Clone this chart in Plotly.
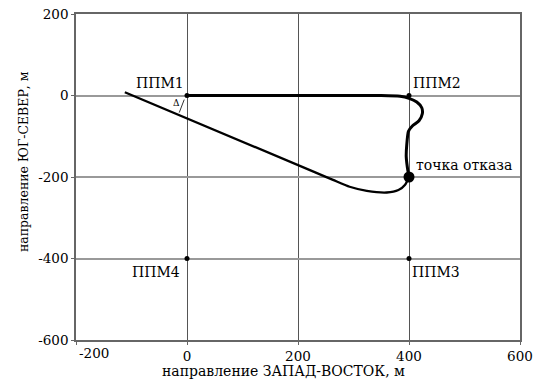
import plotly.graph_objects as go

# Route waypoints (ППМ) in metres: east, north
wp_names = ["ППМ1", "ППМ2", "ППМ3", "ППМ4"]
wp_x = [0, 400, 400, 0]
wp_y = [0, 0, -400, -400]

# Flown track up to the failure point
track_x = [0, 200, 350, 384, 400, 414, 423, 424, 418, 406, 399, 396, 395, 398, 400]
track_y = [0, 0, 0, -2, -7, -16, -30, -45, -62, -75, -88, -120, -150, -185, -200]

# Track after the failure
after_x = [400, 393, 381, 360, 324, 293, 263, 230, -112]
after_y = [-200, -219, -232, -238, -234, -224, -207, -188, 8]

fail_x = [400]
fail_y = [-200]

# Cross-track deviation marker
dev_x = [-5, -14]
dev_y = [-10, -42]

# Axis ticks (the leftmost x label is drawn separately, nudged inside)
x_ticks = [-200, 0, 200, 400, 600]
x_ticktext = ["", "0", "200", "400", "600"]
y_ticks = [-600, -400, -200, 0, 200]
y_ticktext = ["-600", "-400", "-200", "0", "200"]

x_title = "направление ЗАПАД-ВОСТОК, м"
y_title = "направление ЮГ-СЕВЕР, м"

FONT = "DejaVu Serif"

fig = go.Figure()
fig.add_trace(go.Scatter(x=track_x, y=track_y, mode="lines",
                         line=dict(color="black", width=3, shape="spline", smoothing=0.6),
                         hoverinfo="skip"))
fig.add_trace(go.Scatter(x=after_x, y=after_y, mode="lines",
                         line=dict(color="black", width=2.3, shape="spline", smoothing=0.6),
                         hoverinfo="skip"))
fig.add_trace(go.Scatter(x=dev_x, y=dev_y, mode="lines",
                         line=dict(color="black", width=0.8), hoverinfo="skip"))
fig.add_trace(go.Scatter(x=wp_x, y=wp_y, mode="markers",
                         marker=dict(color="black", size=5)))
fig.add_trace(go.Scatter(x=fail_x, y=fail_y, mode="markers",
                         marker=dict(color="black", size=11)))

ann = [
    dict(x=0, y=0, text=wp_names[0], xanchor="right", yanchor="bottom", xshift=-1, yshift=3),
    dict(x=400, y=0, text=wp_names[1], xanchor="left", yanchor="bottom", xshift=2, yshift=3),
    dict(x=400, y=-400, text=wp_names[2], xanchor="left", yanchor="top", xshift=1, yshift=-3),
    dict(x=0, y=-400, text=wp_names[3], xanchor="right", yanchor="top", xshift=-5, yshift=-3),
    dict(x=400, y=-200, text="точка отказа", xanchor="left", yanchor="bottom", xshift=5, yshift=2),
]
for a in ann:
    fig.add_annotation(**a, showarrow=False, font=dict(family=FONT, size=14, color="black"))
fig.add_annotation(x=-19, y=-18, text="Δ", showarrow=False,
                   font=dict(family=FONT, size=9, color="black"))

# leftmost x tick label
fig.add_annotation(x=x_ticks[0], y=0, xref="x", yref="paper", text="-200",
                   xanchor="left", yanchor="top", xshift=1, yshift=-3, showarrow=False,
                   font=dict(family=FONT, size=13.5, color="black"))
# axis titles
fig.add_annotation(x=0.467, y=0, xref="paper", yref="paper", text=x_title,
                   xanchor="center", yanchor="middle", yshift=-31, showarrow=False,
                   font=dict(family=FONT, size=14, color="black"))
fig.add_annotation(x=0, y=0.546, xref="paper", yref="paper", text=y_title, textangle=-90,
                   xanchor="center", yanchor="middle", xshift=-53, showarrow=False,
                   font=dict(family=FONT, size=12.5, color="black"))

axis_common = dict(
    showgrid=True, zeroline=False, showline=True, mirror=True, automargin=False,
    linecolor="#666", linewidth=1.5, ticks="outside", ticklen=3, tickcolor="#666",
    tickfont=dict(family=FONT, size=13.5, color="black"),
)
fig.update_xaxes(**axis_common, range=[-200, 600], tickvals=x_ticks, ticktext=x_ticktext,
                 gridcolor="#555", gridwidth=1)
fig.update_yaxes(**axis_common, range=[-600, 200], tickvals=y_ticks, ticktext=y_ticktext,
                 gridcolor="#999", gridwidth=1.8)

fig.update_layout(
    width=546, height=385, showlegend=False,
    font=dict(family=FONT),
    margin=dict(l=76, r=26, t=14, b=45),
    paper_bgcolor="white", plot_bgcolor="white",
)
fig.write_html("out.html")
